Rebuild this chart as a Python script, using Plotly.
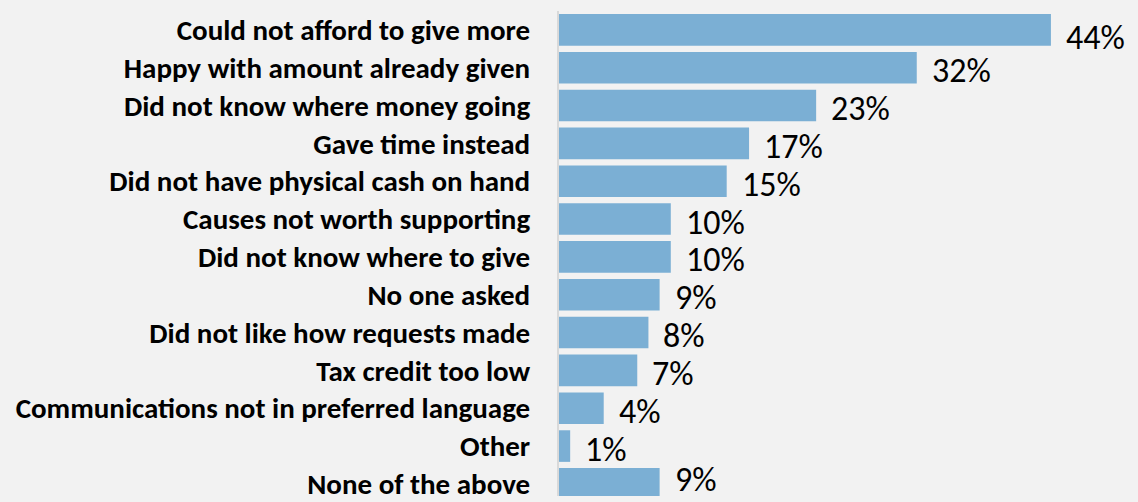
import plotly.graph_objects as go

# Reasons for not giving more (share of respondents, %)
reasons = [
    "Could not afford to give more",
    "Happy with amount already given",
    "Did not know where money going",
    "Gave time instead",
    "Did not have physical cash on hand",
    "Causes not worth supporting",
    "Did not know where to give",
    "No one asked",
    "Did not like how requests made",
    "Tax credit too low",
    "Communications not in preferred language",
    "Other",
    "None of the above",
]
shares = [44, 32, 23, 17, 15, 10, 10, 9, 8, 7, 4, 1, 9]

BAR_COLOR = "#7bafd4"
BG = "#f2f2f2"
FONT = "Carlito, Calibri, Lato, sans-serif"

fig = go.Figure(
    go.Bar(
        x=shares,
        y=reasons,
        orientation="h",
        marker=dict(color=BAR_COLOR, line=dict(width=0)),
        hoverinfo="skip",
    )
)

# value labels to the right of each bar
last = len(reasons) - 1
for i, (r, v) in enumerate(zip(reasons, shares)):
    shift = -3
    if i == 0:
        shift = -8
    elif i == last:
        shift = 4
    fig.add_annotation(
        x=v, y=r, text=f"{v}%", showarrow=False,
        xanchor="left", yanchor="middle", xshift=13,
        yshift=shift,
        font=dict(family=FONT, size=34, color="#000000"),
    )

fig.update_layout(
    width=1138, height=502,
    margin=dict(l=559, r=20, t=11, b=0),
    paper_bgcolor=BG, plot_bgcolor=BG,
    bargap=0.165,
    showlegend=False,
    xaxis=dict(range=[0, 50], visible=False, fixedrange=True),
    yaxis=dict(
        type="category",
        range=[12.32, -0.5],
        showline=True, linecolor="#d9d9d9", linewidth=2,
        showgrid=False, zeroline=False, ticks="",
        ticklabelstandoff=21,
        tickfont=dict(family=FONT, size=29, color="#000000", weight="bold"),
    ),
)

fig.write_html("out.html")
